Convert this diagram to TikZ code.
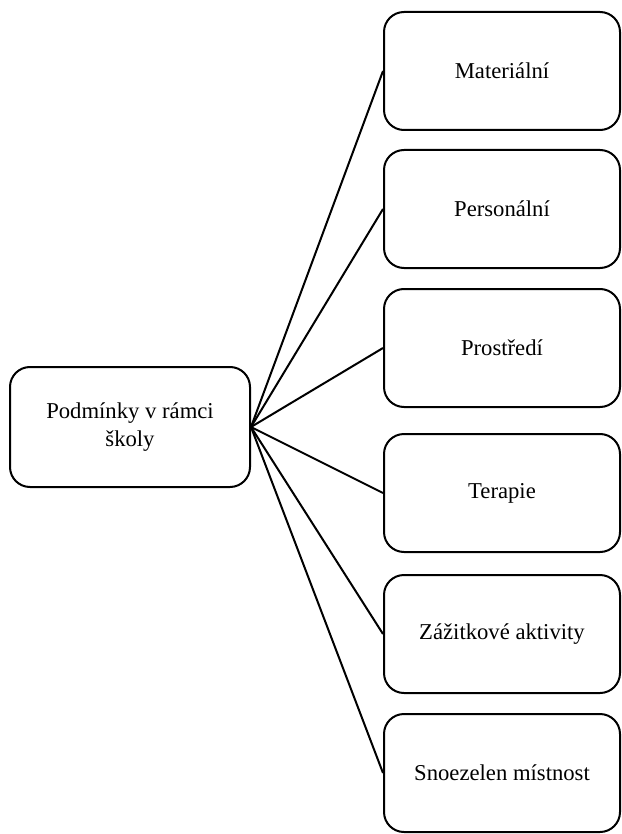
\documentclass[tikz,border=0pt]{standalone}
\usepackage{fontspec}
\setmainfont{Liberation Serif}
\usetikzlibrary{calc}
\tikzset{
	box/.style={draw,line width=1.5pt,rounded corners=15pt,minimum width=177pt,minimum height=88.5pt,align=center,font=\fontsize{17}{21}\selectfont,inner sep=0pt}
}

\begin{document}
\begin{tikzpicture}[x=0.75pt,y=-0.75pt]
	\useasboundingbox (0,0) rectangle (621,834);
	
	%main box
	\node[box,minimum width=180pt,minimum height=90pt] (skola) at (130,427) {Podmínky v rámci\\ školy};
	
	%right boxes
	\node[box] (mat)  at (502,71)  {Materiální};
	\node[box] (pers) at (502,209) {Personální};
	\node[box] (pros) at (502,348) {Prostředí};
	\node[box] (ter)  at (502,493) {Terapie};
	\node[box] (zaz)  at (502,634) {Zážitkové aktivity};
	\node[box] (snoe) at (502,773) {Snoezelen místnost};
	
	%lines
	\foreach \t in {mat,pers,pros,ter,zaz,snoe}
		\draw[line width=1.5pt] (skola.east) -- (\t.west);
	
\end{tikzpicture}
\end{document}
